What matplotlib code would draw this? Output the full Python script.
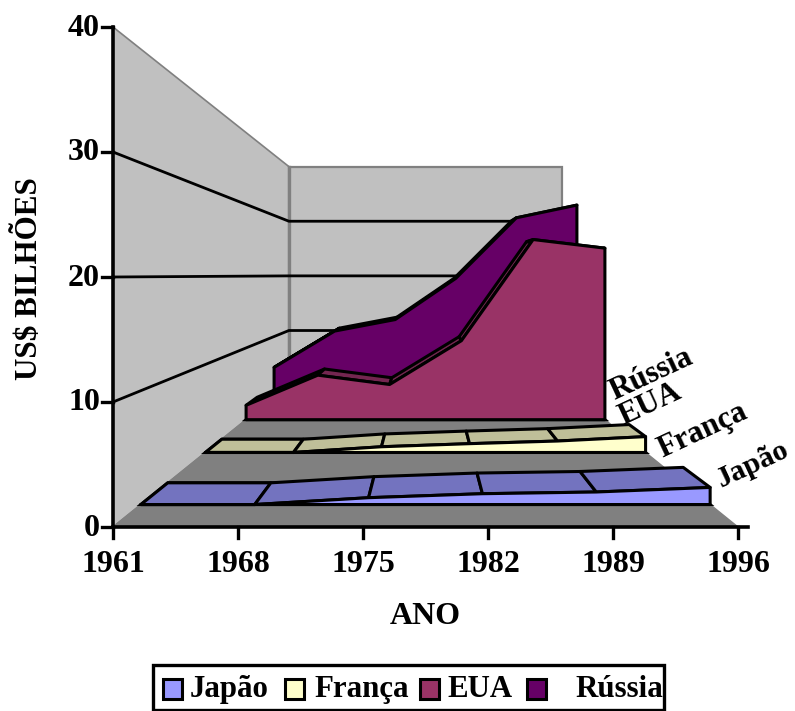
import matplotlib
matplotlib.use('Agg')
import matplotlib.pyplot as plt
from matplotlib.patches import Polygon, Rectangle

plt.rcParams['font.family'] = ['Liberation Serif', 'DejaVu Serif']
plt.rcParams['font.weight'] = 'bold'

# Data, in US$ billions
anos = ['1961', '1968', '1975', '1982', '1989', '1996']
japao = [0.0, 0.0, 0.6, 0.95, 1.1, 1.5]
franca = [0.0, 0.0, 0.65, 1.0, 1.3, 1.8]
eua = [2.0, 6.2, 4.9, 11.0, 25.1, 23.9]
russia = [4.9, 10.9, 12.8, 19.6, 29.6, 31.7]
nomes = ['Japão', 'França', 'EUA', 'Rússia']
series = [japao, franca, eua, russia]
y_ticks = [0, 10, 20, 30, 40]

cor_frente = ['#9999FF', '#FFFFCC', '#993366', '#660066']
cor_topo = ['#7373BF', '#BFBF99', '#732650', '#4D004D']

# Chart box in pixels: front plane, and the vanishing point the depth runs to
X0, X1 = 113.0, 738.0
Y0, Y40 = 527.0, 27.0
VPX, VPY = 425.5, 275.0
K = 1.288
Y_MAX = 40.0
SLOT_FRONT = 0.076
SLOT_BACK = 0.165


def proj(i, depth, v):
    # category index, depth 0-1 (front to back), value -> pixel
    x = X0 + (X1 - X0) * i / (len(anos) - 1)
    y = Y0 + (Y40 - Y0) * v / Y_MAX
    s = 1.0 / (1.0 + K * depth)
    return VPX + s * (x - VPX), VPY + s * (y - VPY)


fig = plt.figure(figsize=(7.95, 7.11), dpi=100)
ax = fig.add_axes([0, 0, 1, 1])
ax.set_xlim(0, 795)
ax.set_ylim(711, 0)
ax.axis('off')

n = len(anos) - 1

# Walls and floor
wall = '#C0C0C0'
edge = '#808080'
ax.add_patch(Polygon([proj(0, 0, 0), proj(0, 0, 40), proj(0, 1, 40), proj(0, 1, 0)],
                     fc=wall, ec=edge, lw=1.2, zorder=1))
ax.add_patch(Polygon([proj(0, 1, 0), proj(0, 1, 40), proj(n, 1, 40), proj(n, 1, 0)],
                     fc=wall, ec=edge, lw=1.6, zorder=1))
ax.plot([proj(0, 1, 0)[0]] * 2, [proj(0, 1, 0)[1], proj(0, 1, 40)[1]], color=edge, lw=2.4, zorder=1.5)
ax.add_patch(Polygon([proj(0, 0, 0), proj(n, 0, 0), proj(n, 1, 0), proj(0, 1, 0)],
                     fc=edge, ec=edge, lw=1, zorder=1))

# Gridlines on the walls
for t in y_ticks[1:-1]:
    pts = [proj(0, 0, t), proj(0, 1, t), proj(n, 1, t)]
    ax.plot([p[0] for p in pts], [p[1] for p in pts], color='black', lw=2.0, zorder=2)

# Series, back to front so the nearer ones cover the others
z = 3
for k in range(len(series) - 1, -1, -1):
    vals = series[k]
    d0 = k * 0.25 + SLOT_FRONT
    d1 = k * 0.25 + SLOT_BACK
    # floor strip under the series
    ax.add_patch(Polygon([proj(0, d0, 0), proj(n, d0, 0), proj(n, d1, 0), proj(0, d1, 0)],
                         fc=cor_topo[k], ec='black', lw=2.2, zorder=z))
    z += 1
    for i in range(n):
        ax.add_patch(Polygon([proj(i, d0, vals[i]), proj(i + 1, d0, vals[i + 1]),
                              proj(i + 1, d1, vals[i + 1]), proj(i, d1, vals[i])],
                             fc=cor_topo[k], ec='black', lw=2.2, joinstyle='round', zorder=z))
        z += 1
    front = [proj(i, d0, vals[i]) for i in range(n + 1)]
    front += [proj(n, d0, 0), proj(0, d0, 0)]
    ax.add_patch(Polygon(front, fc=cor_frente[k], ec='black', lw=2.2, joinstyle='round', zorder=z))
    z += 1

# Axes
top = z + 1
ax.plot([X0, X0], [Y40, Y0], color='black', lw=2.6, zorder=top)
ax.plot([X0, X1 + 10], [Y0, Y0], color='black', lw=2.6, zorder=top)
for t in y_ticks:
    py = proj(0, 0, t)[1]
    ax.plot([X0 - 11, X0], [py, py], color='black', lw=2.4, zorder=top)
    ax.text(X0 - 13, py + 1, str(t), ha='right', va='center', fontsize=23, fontweight='bold')
for i, a in enumerate(anos):
    px = proj(i, 0, 0)[0]
    ax.plot([px, px], [Y0, Y0 + 11], color='black', lw=2.4, zorder=top)
    ax.text(px, 564, a, ha='center', va='center', fontsize=23, fontweight='bold')

ax.text(425.5, 616, 'ANO', ha='center', va='center', fontsize=23, fontweight='bold')
ax.text(29, 278.5, 'US$ BILHÕES', ha='center', va='center', rotation=90, fontsize=22.4, fontweight='bold')

# Series names at the end of each band
name_pos = [(753, 465), (703, 431), (650, 404), (651, 375)]
name_size = [21.5, 22.5, 22.5, 22.5]
for nome, (px, py), fs in zip(nomes, name_pos, name_size):
    ax.text(px, py, nome, ha='center', va='center', rotation=25, rotation_mode='anchor',
            fontsize=fs, fontweight='bold', zorder=top)

# Legend
ax.add_patch(Rectangle((153, 665), 511, 45, fc='white', ec='black', lw=2.4, zorder=top))
swatch_x = [163, 285, 420, 527]
label_x = [190, 314, 447, 575]
for k, nome in enumerate(nomes):
    ax.add_patch(Rectangle((swatch_x[k], 679), 19, 20, fc=cor_frente[k], ec='black', lw=2.2, zorder=top + 1))
    ax.text(label_x[k], 689.5, nome, ha='left', va='center', fontsize=22.2, fontweight='bold', zorder=top + 1)

fig.savefig('out.png', dpi=100)
